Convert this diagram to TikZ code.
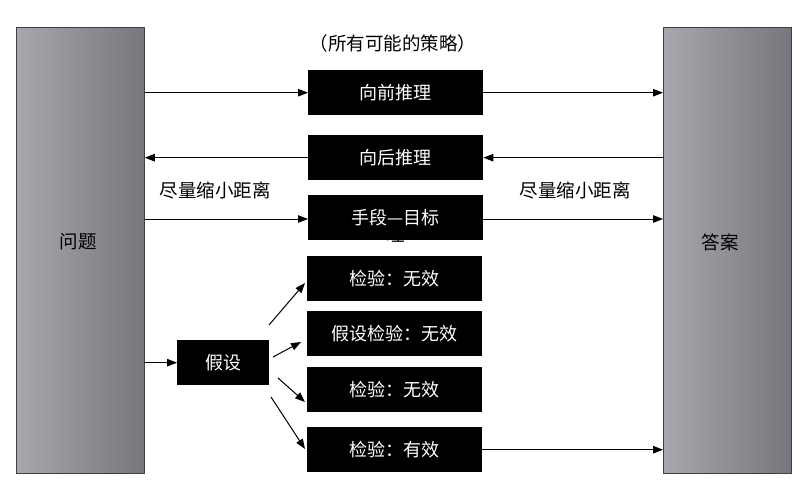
\documentclass[tikz,border=0pt]{standalone}
\usepackage{fontspec}
\setmainfont{Noto Sans CJK SC}
\usetikzlibrary{arrows.meta}
\definecolor{gl}{RGB}{166,168,173}
\definecolor{gm}{RGB}{196,197,199}
\definecolor{gr}{RGB}{118,119,124}
\begin{document}
\begin{tikzpicture}[x=1pt,y=-1pt,
  tall/.style={draw=black!75, line width=0.8pt, left color=gl, middle color=gm, right color=gr,
    minimum width=128pt, minimum height=446pt, anchor=north west, inner sep=0pt},
  blk/.style={fill=black, text=white, minimum width=175pt, minimum height=45pt, inner sep=0pt,
    anchor=north west, font=\fontsize{18}{18}\selectfont},
  arr/.style={-{Triangle[length=10pt,width=7.5pt]}, line width=1pt},
  lbl/.style={font=\fontsize{18.5}{18.5}\selectfont, inner sep=0pt}]
\fill[white] (0,0) rectangle (801,492);
\useasboundingbox (0,0) rectangle (801,492);
% tall boxes
\node[tall] (q) at (16,27) {};
\node[tall] (a) at (663,27) {};
\node[lbl] (qt) at (78,242) {问题};
\node[lbl] (at) at (720,242) {答案};
% hidden overflow text
\node[lbl] (li) at (396,235) {理};
% black boxes
\node[blk] (f) at (308,70) {向前推理};
\node[blk] (b) at (308,135) {向后推理};
\node[blk] (m) at (308,195) {手段—目标};
\node[blk] (t1) at (307,256) {检验：无效};
\node[blk] (t2) at (307,311) {假设检验：无效};
\node[blk] (t3) at (307,367) {检验：无效};
\node[blk] (t4) at (307,427) {检验：有效};
\node[blk, minimum width=92pt] (h) at (177,340) {假设};
% labels
\node[lbl] (top) at (393,43) {（所有可能的策略）};
\node[lbl] (l1) at (215,190) {尽量缩小距离};
\node[lbl] (l2) at (575,190) {尽量缩小距离};
% horizontal arrows
\draw[arr] (q.east |- f.west) -- (f.west);
\draw[arr] (f.east) -- (a.west |- f.east);
\draw[arr] (a.west |- b.east) -- (b.east);
\draw[arr] (b.west) -- (q.east |- b.west);
\draw[arr] (q.east |- 0,219) -- (m.west |- 0,219);
\draw[arr] (m.east |- 0,219) -- (a.west |- 0,219);
\draw[arr] (q.east |- h.west) -- (h.west);
\draw[arr] (t4.east) -- (a.west |- t4.east);
% diagonal arrows from hypothesis
\coordinate (s1) at (269,325);
\coordinate (s2) at (273,357);
\coordinate (s3) at (278,378);
\coordinate (s4) at (271,397);
\coordinate (e1) at (305,283);
\coordinate (e2) at (301,342);
\coordinate (e3) at (305,402);
\coordinate (e4) at (305,449);
\draw[arr] (s1) -- (e1);
\draw[arr] (s2) -- (e2);
\draw[arr] (s3) -- (e3);
\draw[arr] (s4) -- (e4);
\end{tikzpicture}
\end{document}
